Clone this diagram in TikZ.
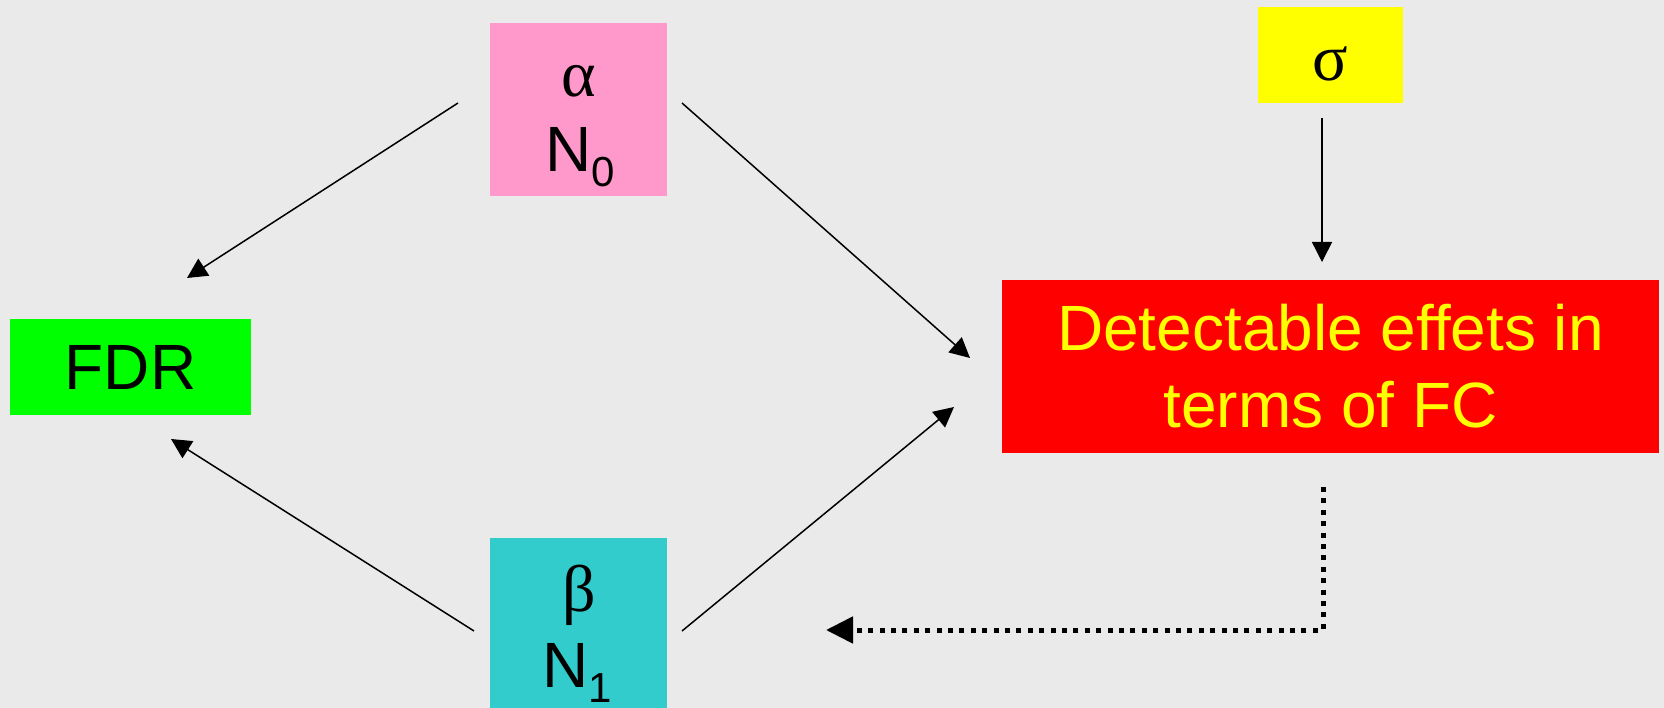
\documentclass[tikz,border=0pt]{standalone}
\usepackage{fontspec}
\setmainfont{Liberation Sans}
\newfontfamily\greekfont{Liberation Serif}
\usetikzlibrary{arrows.meta}
\definecolor{bg}{RGB}{234,234,234}
\definecolor{pinkbox}{RGB}{255,153,204}
\definecolor{cyanbox}{RGB}{51,204,204}
\definecolor{yellowbox}{RGB}{255,255,0}
\definecolor{greenbox}{RGB}{0,255,0}
\definecolor{redbox}{RGB}{255,0,0}
\tikzset{
  box/.style={rectangle, draw=none, inner sep=0pt, outer sep=0pt},
  sanslab/.style={inner sep=0pt, font=\fontsize{64}{77}\selectfont},
  greeklab/.style={inner sep=0pt, anchor=base, font=\greekfont\fontsize{66}{66}\selectfont},
  conn/.style={line width=1.5pt, -{Triangle[length=20pt,width=20pt]}},
  dotconn/.style={line width=5pt, dash pattern=on 5pt off 6.4pt, -{Triangle[length=27pt,width=26pt]}},
}
\newcommand{\subn}[1]{\raisebox{-15pt}{\fontsize{42}{42}\selectfont #1}}
\begin{document}
\begin{tikzpicture}[x=1pt,y=-1pt]
\useasboundingbox (0,0) rectangle (1664,708);
\fill[bg] (0,0) rectangle (1664,708);
% boxes
\node[box, fill=pinkbox, minimum width=177pt, minimum height=173pt] (pinkb) at (578.5,109.5) {};
\node[box, fill=cyanbox, minimum width=177pt, minimum height=170pt] (cyanb) at (578.5,623) {};
\node[box, fill=yellowbox, minimum width=145pt, minimum height=96pt] (sigb) at (1330.5,55) {};
\node[box, fill=greenbox, minimum width=241pt, minimum height=96pt, font=\fontsize{64}{77}\selectfont] (fdr) at (130.5,367) {FDR};
\node[box, fill=redbox, minimum width=657pt, minimum height=173pt, align=center, text=yellowbox, font=\fontsize{64}{77}\selectfont] (red) at (1330.5,366.5) {Detectable effets in\\terms of FC};
% labels
\node[greeklab] (alpha) at (579,97) {α};
\node[sanslab, anchor=base] (nzero) at (580,172) {N\subn{0}};
\node[greeklab] (beta) at (579,611) {β};
\node[sanslab, anchor=base] (none) at (577.5,687) {N\subn{1}};
\node[greeklab] (sigma) at (1330,81) {σ};
% connector ends
\coordinate (p1s) at (458,103);
\coordinate (p1e) at (187,278);
\coordinate (p2s) at (682,103);
\coordinate (p2e) at (970,358);
\coordinate (c1s) at (474,631);
\coordinate (c1e) at (171,439);
\coordinate (c2s) at (682,631);
\coordinate (c2e) at (954,407);
\coordinate (ss) at (1322,118);
\coordinate (se) at (1322,262);
\coordinate (d0) at (1323,487);
\coordinate (d1) at (1323,630);
\coordinate (d2) at (826,630);
% connectors
\draw[conn] (p1s) -- (p1e);
\draw[conn] (p2s) -- (p2e);
\draw[conn] (c1s) -- (c1e);
\draw[conn] (c2s) -- (c2e);
\draw[conn] (ss) -- (se);
\draw[dotconn] (d0) -- (d1) -- (d2);
\end{tikzpicture}
\end{document}
